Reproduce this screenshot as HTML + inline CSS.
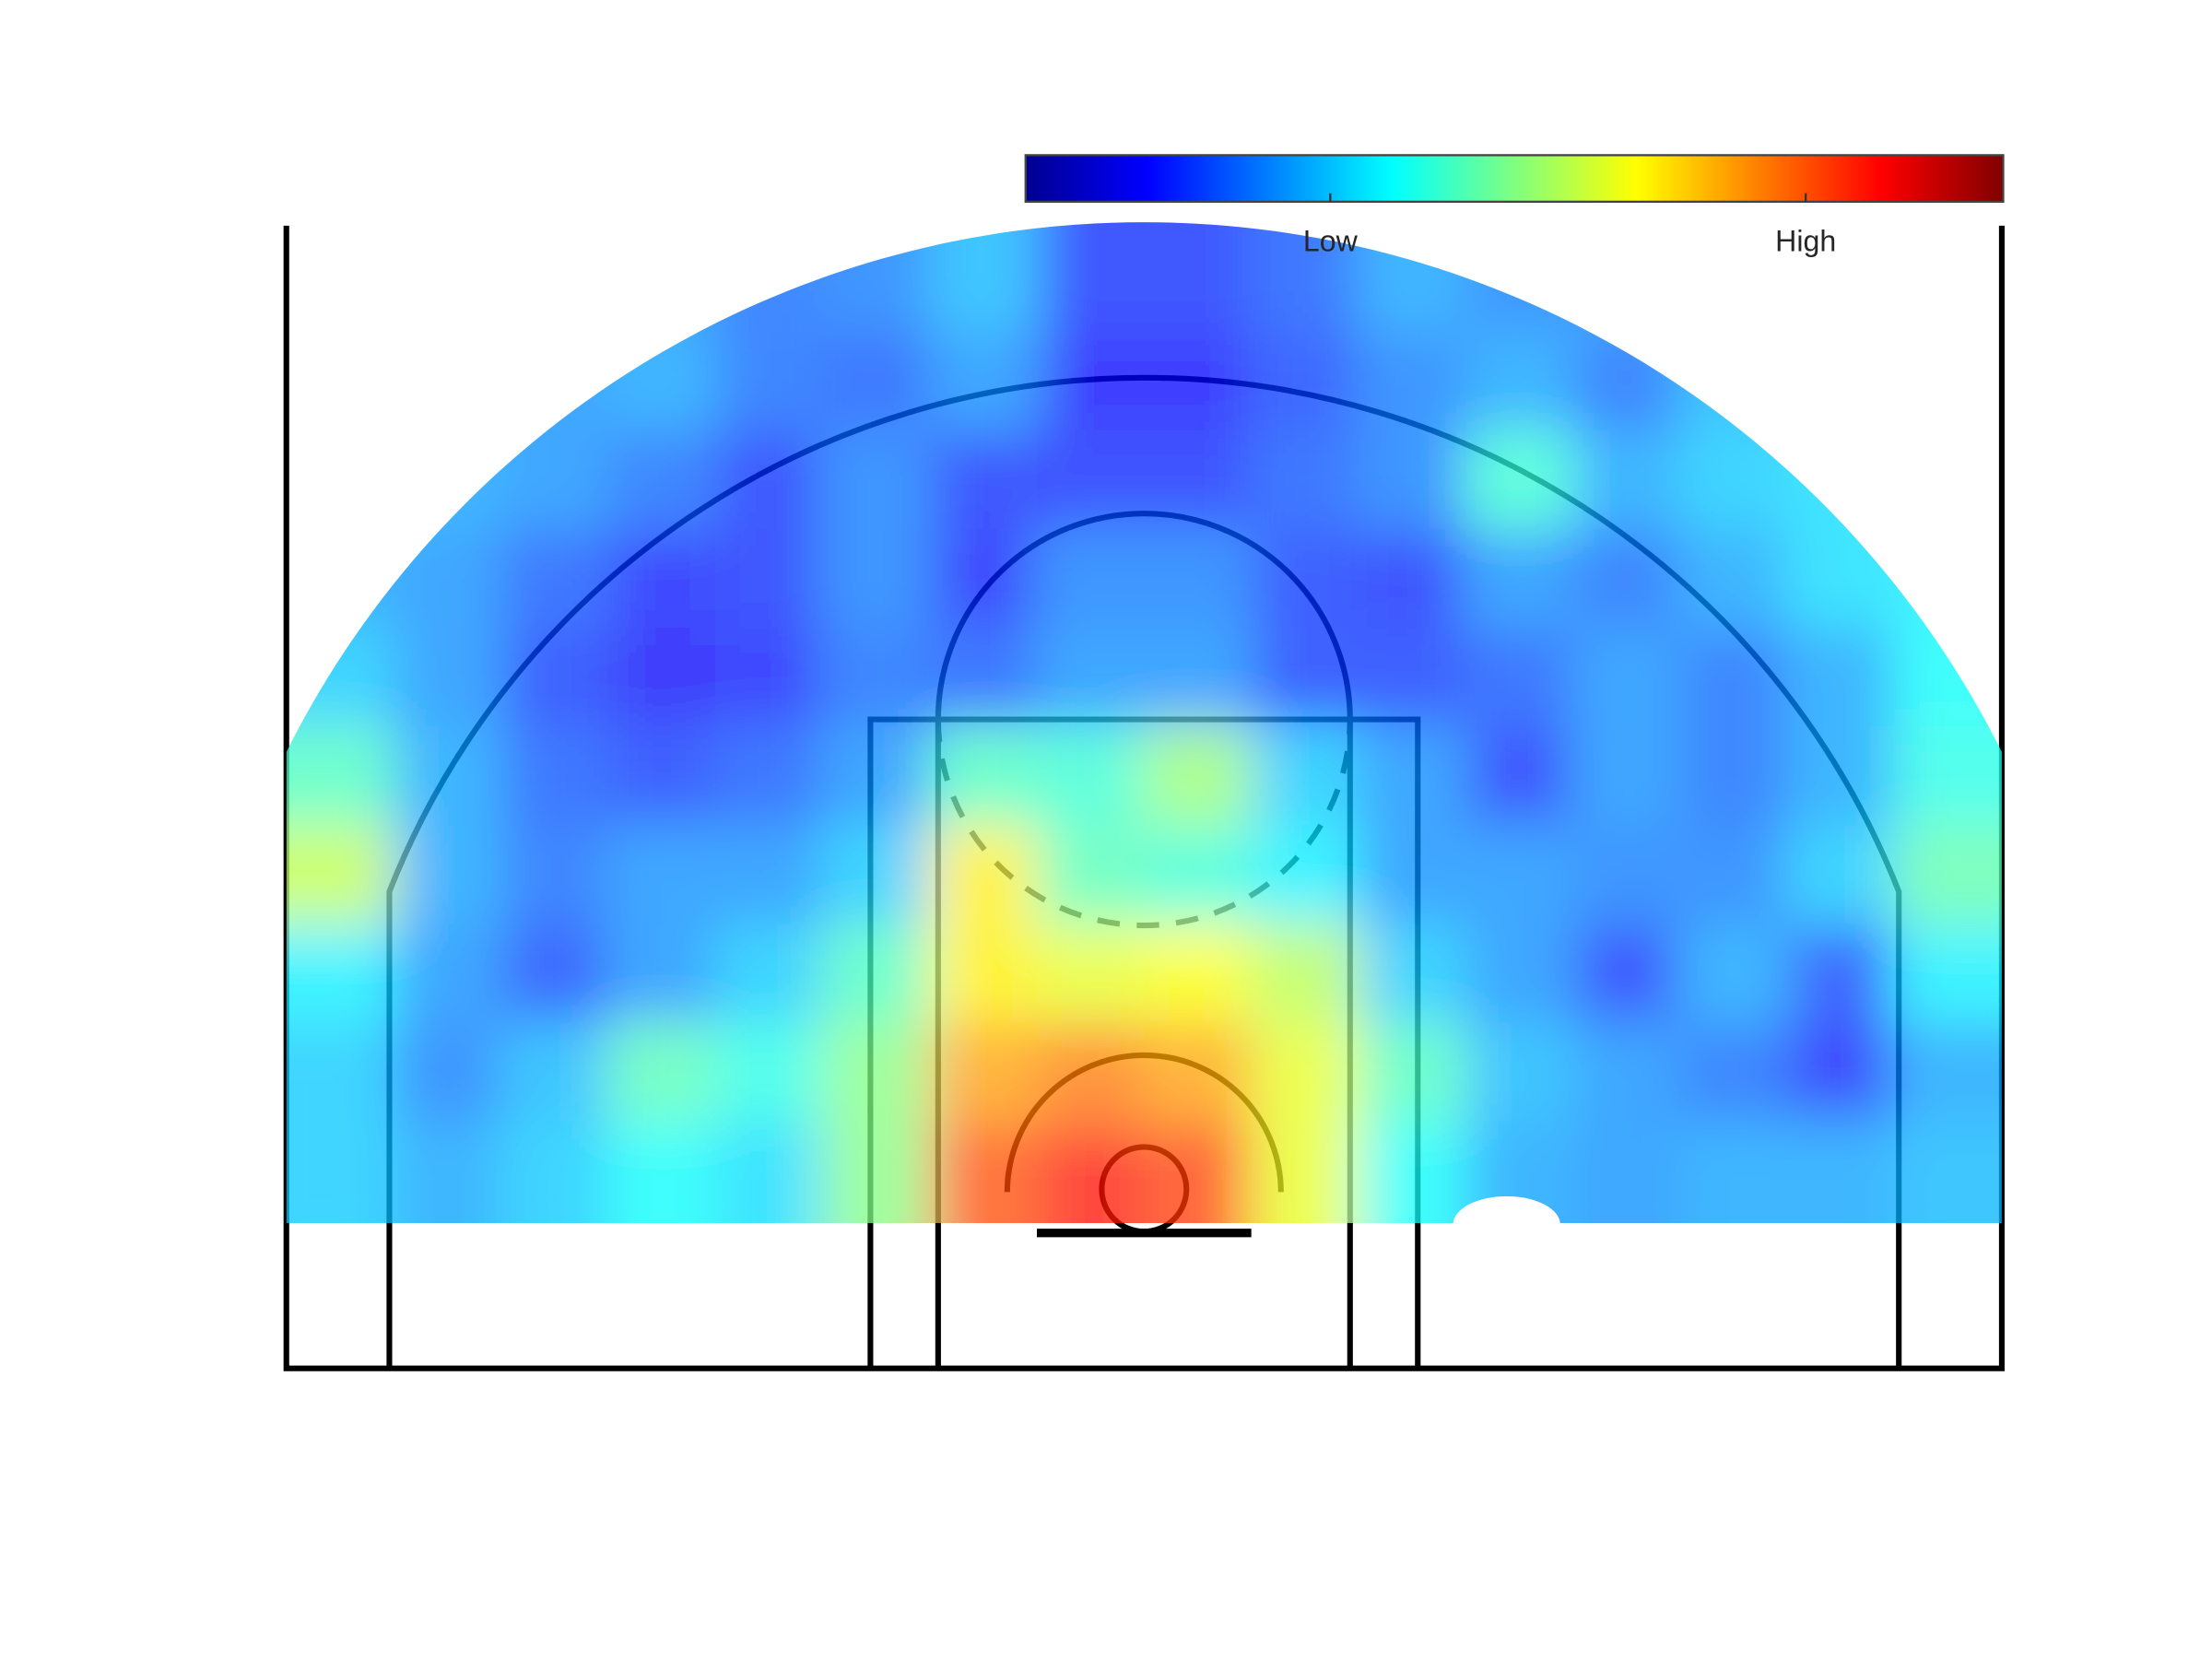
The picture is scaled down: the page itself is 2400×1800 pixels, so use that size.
<!DOCTYPE html>
<html><head><meta charset="utf-8">
<style>html,body{margin:0;padding:0;background:#fff}svg{display:block}</style>
</head><body>
<svg width="2400" height="1800" viewBox="0 0 1568 1176" xmlns="http://www.w3.org/2000/svg">
<defs>
  <linearGradient id="jet" x1="0" x2="1" y1="0" y2="0">
    <stop offset="0" stop-color="#00008f"/>
    <stop offset="0.125" stop-color="#0000ff"/>
    <stop offset="0.375" stop-color="#00ffff"/>
    <stop offset="0.625" stop-color="#ffff00"/>
    <stop offset="0.875" stop-color="#ff0000"/>
    <stop offset="1" stop-color="#800000"/>
  </linearGradient>
  <filter id="blur" x="-5%" y="-5%" width="110%" height="110%">
    <feGaussianBlur stdDeviation="19" edgeMode="duplicate"/>
    <feComponentTransfer><feFuncA type="table" tableValues="1 1"/></feComponentTransfer>
  </filter>
  <clipPath id="heatClip">
    <path d="M203,867 L203,533 A680,680 0 0 1 1419,533 L1419,867 Z"/>
  </clipPath>
</defs>
<g id="court"></g>
<g id="heat" clip-path="url(#heatClip)" opacity="0.75">
  <g id="cells" filter="url(#blur)"></g>
</g>
<path d="M1030,868 A38,20 0 0 1 1106,868 Z" fill="#fff"/>
<g id="courtTop"></g>
<g>
  <rect x="727" y="110" width="693" height="33" fill="url(#jet)" stroke="#444" stroke-width="1.5"/>
  <line x1="943" y1="143" x2="943" y2="137" stroke="#333" stroke-width="1.5"/>
  <line x1="1280" y1="143" x2="1280" y2="137" stroke="#333" stroke-width="1.5"/>
  <text x="943" y="178" text-anchor="middle" font-family="Liberation Sans, sans-serif" font-size="21" fill="#262626">Low</text>
  <text x="1280" y="178" text-anchor="middle" font-family="Liberation Sans, sans-serif" font-size="21" fill="#262626">High</text>
</g>
<script>
const colCenters = [241,317,393,469,545,621,697,773,849,925,1001,1077,1153,1229,1305,1381];
const rowCenters = [200,270,340,410,480,550,620,690,760,830];
const densityRows = [
 [.28,.28,.28,.26,.22,.24,.30,.16,.16,.20,.28,.24,.26,.30,.30,.30],
 [.28,.28,.26,.28,.22,.20,.26,.13,.13,.18,.24,.28,.22,.30,.32,.32],
 [.30,.28,.26,.22,.16,.24,.16,.15,.15,.20,.24,.42,.28,.32,.34,.36],
 [.28,.26,.20,.14,.16,.24,.14,.24,.24,.17,.15,.26,.22,.28,.34,.36],
 [.32,.26,.17,.12,.14,.22,.20,.26,.26,.17,.17,.20,.26,.22,.28,.38],
 [.44,.28,.20,.17,.20,.26,.44,.42,.52,.32,.26,.15,.26,.22,.28,.40],
 [.56,.28,.22,.26,.26,.32,.64,.45,.42,.36,.26,.26,.24,.24,.32,.46],
 [.36,.26,.18,.26,.32,.44,.64,.60,.62,.55,.32,.26,.16,.28,.18,.36],
 [.32,.24,.30,.45,.40,.50,.72,.76,.72,.60,.44,.30,.26,.22,.14,.28],
 [.32,.28,.32,.38,.34,.50,.80,.86,.82,.60,.38,.28,.26,.28,.28,.30]
];
function jet(v){
  const c=x=>Math.max(0,Math.min(1,x));
  const r=c(1.5-Math.abs(4*v-3)), g=c(1.5-Math.abs(4*v-2)), b=c(1.5-Math.abs(4*v-1));
  return `rgb(${Math.round(r*255)},${Math.round(g*255)},${Math.round(b*255)})`;
}
const NS="http://www.w3.org/2000/svg";
const cw=76, ch=70.2;
const cells=document.getElementById('cells');
densityRows.forEach((row,ri)=>{
  row.forEach((v,ci)=>{
    const r=document.createElementNS(NS,'rect');
    let x=colCenters[ci]-cw/2, y=rowCenters[ri]-ch/2, w=cw, h=ch;
    if(ri===0){y-=80;h+=80;}
    if(ri===densityRows.length-1){h+=30;}
    if(ci===0){x-=30;w+=30;}
    if(ci===row.length-1){w+=30;}
    r.setAttribute('x',x);r.setAttribute('y',y);r.setAttribute('width',w+0.5);r.setAttribute('height',h+0.5);
    r.setAttribute('fill',jet(v));
    
    
    cells.appendChild(r);
  });
});
const court=document.getElementById('court');
const shapes=[
 ['path','M276,970 L276,632 A575,575 0 0 1 1346,632 L1346,970','three-point-line'],
 ['path','M617,970 L617,510 L1005,510 L1005,970','paint-outer'],
 ['path','M665,970 L665,510 M957,970 L957,510','paint-inner'],
 ['path','M665,510 A146,146 0 0 1 957,510','free-throw-circle-top'],
 ['path','M665,510 A146,146 0 0 0 957,510','free-throw-circle-bottom',true],
 ['path','M714,845 A97,97 0 0 1 908,845','restricted-area'],
 ['circle','811,843,30','hoop'],
 ['path','M203,160 L203,970 L1419,970 L1419,160','court-boundary']
];
function mk(s,g){
  const e=document.createElementNS(NS,s[0]);
  if(s[0]==='circle'){const p=s[1].split(',');e.setAttribute('cx',p[0]);e.setAttribute('cy',p[1]);e.setAttribute('r',p[2]);}
  else e.setAttribute('d',s[1]);
  e.setAttribute('fill','none');e.setAttribute('stroke','#000');e.setAttribute('stroke-width','4');
  if(s[3]) e.setAttribute('stroke-dasharray','16,12');
  
  
  g.appendChild(e);
}
shapes.forEach(s=>mk(s,court));
const bd=document.createElementNS(NS,'line');
bd.setAttribute('x1',735);bd.setAttribute('x2',887);bd.setAttribute('y1',874);bd.setAttribute('y2',874);
bd.setAttribute('stroke','#000');bd.setAttribute('stroke-width','6');


document.getElementById('courtTop').appendChild(bd);
</script>
</svg>
</body></html>
